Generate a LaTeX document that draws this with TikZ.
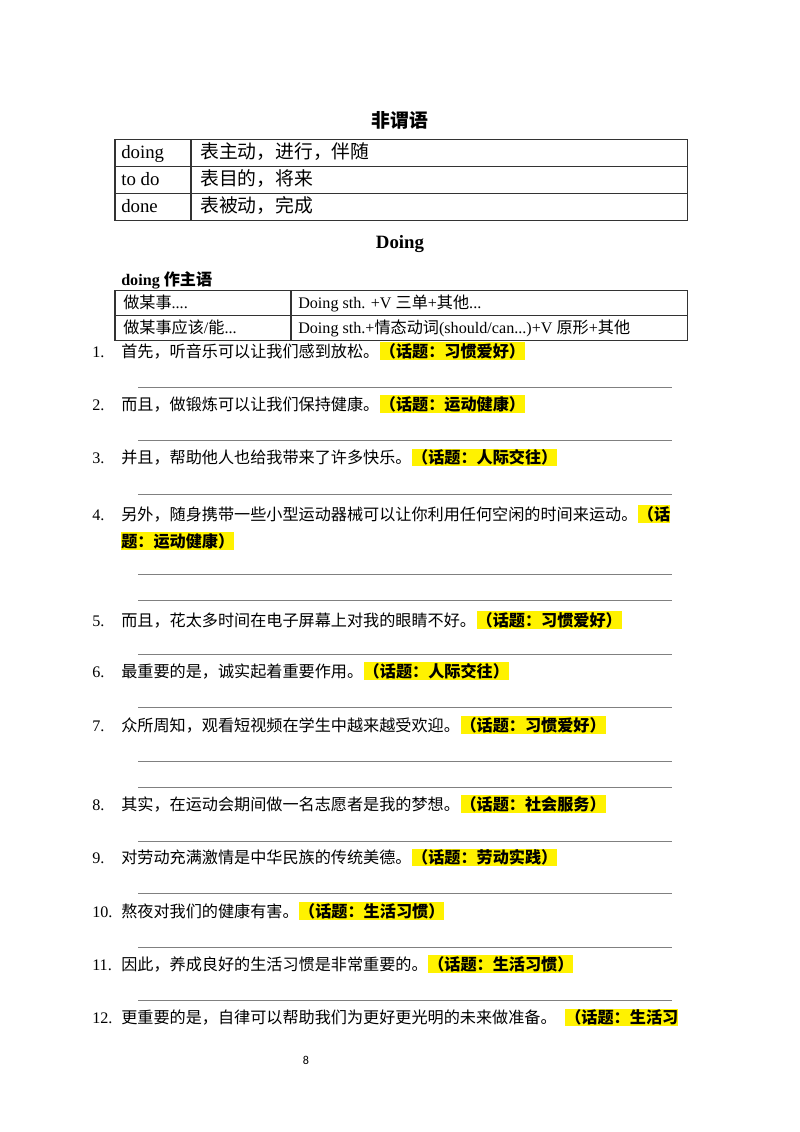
\documentclass[tikz,border=0pt]{standalone}
\usepackage{fontspec}
\setmainfont{Liberation Serif}
\newfontfamily\cjk{Noto Sans CJK SC}
\newfontfamily\pagefont{Carlito}
\newcommand{\zh}[1]{{\cjk #1}}

\tikzset{
  heading/.style={anchor=base, inner sep=0pt, font=\fontsize{14}{16}\selectfont\bfseries},
  cell/.style={anchor=base west, inner sep=0pt, font=\fontsize{14}{16}\selectfont},
  cellsm/.style={anchor=base west, inner sep=0pt, font=\fontsize{12}{14}\selectfont},
  grid/.style={draw=black!80, line width=0.75pt},
  num/.style={anchor=base west, inner sep=0pt, font=\fontsize{12}{14}\selectfont},
  sentence/.style={anchor=base west, inner sep=0pt, font=\fontsize{12}{14}\selectfont\cjk},
  tag/.style={anchor=base west, inner sep=0pt, fill=yellow, text height=11pt, text depth=2pt,
    font=\fontsize{12}{14}\selectfont\bfseries\cjk},
  blank/.style={draw=black!50, line width=0.75pt},
}

\begin{document}
\begin{tikzpicture}[x=0.744pt,y=-0.744pt]
\useasboundingbox (0,0) rectangle (800,1132);
\fill[white] (0,0) rectangle (800,1132);

% Drawing title and table of forms
\node[heading] (title) at (400,127) {\cjk 非谓语};
\draw[grid] (115,139) rectangle (687,220);
\draw[grid] (115,166) -- (687,166);
\draw[grid] (115,193) -- (687,193);
\draw[grid] (191,139) -- (191,220);
\node[cell] (fdoing) at (121,158.5) {doing};
\node[cell] (udoing) at (200,158.5) {\zh{表主动，进行，伴随}};
\node[cell] (ftodo) at (121,185.5) {to do};
\node[cell] (utodo) at (200,185.5) {\zh{表目的，将来}};
\node[cell] (fdone) at (121,212.5) {done};
\node[cell] (udone) at (200,212.5) {\zh{表被动，完成}};

% Drawing doing as subject
\node[heading] (doingtitle) at (400,248) {Doing};
\node[cellsm, font=\fontsize{12}{14}\selectfont\bfseries] (subject) at (121,285) {doing \zh{作主语}};
\draw[grid] (115,290) rectangle (687,340);
\draw[grid] (115,315) -- (687,315);
\draw[grid] (291,290) -- (291,340);
\node[cellsm] (mean1) at (123,308.5) {\zh{做某事}....};
\node[cellsm] (rule1) at (298,308.5) {Doing sth. +V \zh{三单}+\zh{其他}...};
\node[cellsm] (mean2) at (123,333.5) {\zh{做某事应该}/\zh{能}...};
\node[cellsm] (rule2) at (298,333.5) {Doing sth.+\zh{情态动词}(should/can...)+V \zh{原形}+\zh{其他}};

% Drawing sentences
\node[num] (n1) at (92,357) {1.};
\node[sentence] (s1) at (121,357) {首先，听音乐可以让我们感到放松。};
\node[tag] (t1) at (s1.base east) {（话题：习惯爱好）};
\node[num] (n2) at (92,410) {2.};
\node[sentence] (s2) at (121,410) {而且，做锻炼可以让我们保持健康。};
\node[tag] (t2) at (s2.base east) {（话题：运动健康）};
\node[num] (n3) at (92,463.5) {3.};
\node[sentence] (s3) at (121,463.5) {并且，帮助他人也给我带来了许多快乐。};
\node[tag] (t3) at (s3.base east) {（话题：人际交往）};
\node[num] (n4) at (92,520) {4.};
\node[sentence] (s4) at (121,520) {另外，随身携带一些小型运动器械可以让你利用任何空闲的时间来运动。};
\node[tag] (t4) at (s4.base east) {（话};
\node[tag] (t4b) at (121,547) {题：运动健康）};
\node[num] (n5) at (92,626) {5.};
\node[sentence] (s5) at (121,626) {而且，花太多时间在电子屏幕上对我的眼睛不好。};
\node[tag] (t5) at (s5.base east) {（话题：习惯爱好）};
\node[num] (n6) at (92,677) {6.};
\node[sentence] (s6) at (121,677) {最重要的是，诚实起着重要作用。};
\node[tag] (t6) at (s6.base east) {（话题：人际交往）};
\node[num] (n7) at (92,731) {7.};
\node[sentence] (s7) at (121,731) {众所周知，观看短视频在学生中越来越受欢迎。};
\node[tag] (t7) at (s7.base east) {（话题：习惯爱好）};
\node[num] (n8) at (92,810) {8.};
\node[sentence] (s8) at (121,810) {其实，在运动会期间做一名志愿者是我的梦想。};
\node[tag] (t8) at (s8.base east) {（话题：社会服务）};
\node[num] (n9) at (92,863.5) {9.};
\node[sentence] (s9) at (121,863.5) {对劳动充满激情是中华民族的传统美德。};
\node[tag] (t9) at (s9.base east) {（话题：劳动实践）};
\node[num] (n10) at (92,917) {10.};
\node[sentence] (s10) at (121,917) {熬夜对我们的健康有害。};
\node[tag] (t10) at (s10.base east) {（话题：生活习惯）};
\node[num] (n11) at (92,970) {11.};
\node[sentence] (s11) at (121,970) {因此，养成良好的生活习惯是非常重要的。};
\node[tag] (t11) at (s11.base east) {（话题：生活习惯）};
\node[num] (n12) at (92,1023.5) {12.};
\node[sentence] (s12) at (121,1023.5) {更重要的是，自律可以帮助我们为更好更光明的未来做准备。};
\node[tag, xshift=6] (t12) at (s12.base east) {（话题：生活习};

% Drawing answer lines
\foreach \y in {387,440,494,574,600,654,707,761,787,841,893,947,1000}
  \draw[blank] (138,\y) -- (672,\y);

% Drawing page number
\node[inner sep=0pt, font=\fontsize{9}{10}\selectfont\pagefont] (page) at (306,1060) {8};
\end{tikzpicture}
\end{document}
